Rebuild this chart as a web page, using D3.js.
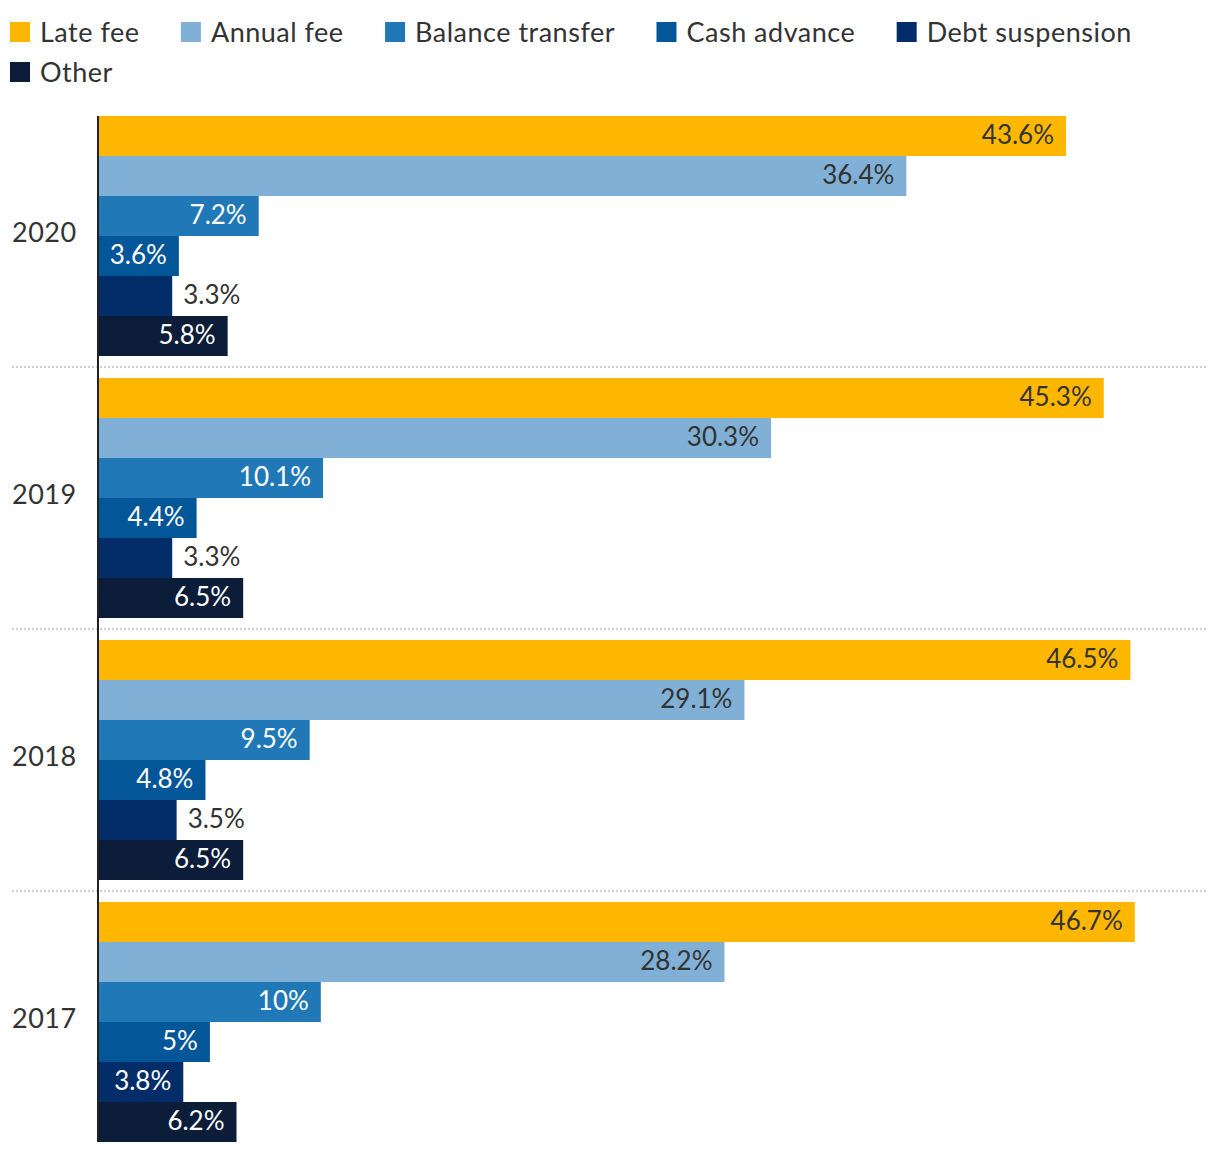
<!DOCTYPE html>
<html>
<head>
<meta charset="utf-8">
<script src="https://cdn.jsdelivr.net/npm/d3@7"></script>
<style>
  html, body { margin: 0; padding: 0; background: #fff; }
  svg { display: block; font-family: "Proxima Nova", Lato, "Open Sans", sans-serif; }
  .spaced { letter-spacing: 0.5px; }
</style>
</head>
<body>
<svg id="chart" width="1220" height="1152"></svg>
<script>
// ---- DATA ----
const years = ["2020", "2019", "2018", "2017"];
const seriesNames = ["Late fee", "Annual fee", "Balance transfer", "Cash advance", "Debt suspension", "Other"];
const seriesColors = ["#fdb700", "#80b0d5", "#2178b7", "#035697", "#022d69", "#0b1d39"];
const labelColors = ["#333333", "#333333", "#ffffff", "#ffffff", "#ffffff", "#ffffff"];
const lateFee = [43.6, 45.3, 46.5, 46.7];
const annualFee = [36.4, 30.3, 29.1, 28.2];
const balanceTransfer = [7.2, 10.1, 9.5, 10];
const cashAdvance = [3.6, 4.4, 4.8, 5];
const debtSuspension = [3.3, 3.3, 3.5, 3.8];
const other = [5.8, 6.5, 6.5, 6.2];
const seriesValues = [lateFee, annualFee, balanceTransfer, cashAdvance, debtSuspension, other];
const xDomain = [0, 50];

// ---- LAYOUT ----
const svg = d3.select("#chart");
const FONT = 27;
const VFONT = 26;
const MIN_INSIDE = 78.7; // minimum bar width (px) to hold its label inside
const mLeft = 99, mRight = 1208, mTop = 105, mBottom = 1153;

const x = d3.scaleLinear().domain(xDomain).range([mLeft, mRight]);
const y0 = d3.scaleBand().domain(years).range([mTop, mBottom]).paddingInner(22 / 262).paddingOuter(0.5 * 22 / 262);
const y1 = d3.scaleBand().domain(seriesNames).range([0, y0.bandwidth()]);

// legend
const legend = svg.append("g");
let lx = 10, ly = 22;
seriesNames.forEach((name, i) => {
  const g = legend.append("g");
  const t = g.append("text").attr("class", "spaced").attr("font-size", FONT).attr("fill", "#333").text(name);
  const w = t.node().getComputedTextLength();
  if (lx + 30 + w > 1215) { lx = 10; ly += 40; }
  g.append("rect").attr("x", lx).attr("y", ly).attr("width", 20).attr("height", 20).attr("fill", seriesColors[i]);
  t.attr("x", lx + 30).attr("y", ly + 19.5);
  lx += 30 + w + 41.5;
});

// separators
const sepYs = years.slice(1).map(yr => y0(yr) - y0.step() * y0.paddingInner() / 2);
svg.append("g").selectAll("line").data(sepYs).join("line")
  .attr("x1", 12).attr("x2", 1208).attr("y1", d => d).attr("y2", d => d)
  .attr("stroke", "#cfcfcf").attr("stroke-width", 2).attr("stroke-dasharray", "2,2");

// groups
const data = years.map((yr, yi) => ({ year: yr, values: seriesNames.map((s, si) => ({ s, si, v: seriesValues[si][yi] })) }));
const groups = svg.append("g").selectAll("g").data(data).join("g")
  .attr("transform", d => `translate(0,${y0(d.year)})`);

groups.append("text").attr("class", "spaced").attr("x", 12).attr("y", y0.bandwidth() / 2 + 6)
  .attr("font-size", FONT).attr("fill", "#333").text(d => d.year);

groups.selectAll("rect").data(d => d.values).join("rect")
  .attr("x", x(0)).attr("y", d => y1(d.s)).attr("height", y1.bandwidth())
  .attr("width", d => x(d.v) - x(0)).attr("fill", d => seriesColors[d.si]);

const PAD = 11;
groups.selectAll("text.val").data(d => d.values).join("text").attr("class", "val")
  .attr("font-size", VFONT)
  .attr("y", d => y1(d.s) + y1.bandwidth() / 2 + 8)
  .text(d => d.v + "%")
  .each(function (d) {
    const w = this.getComputedTextLength();
    const bw = x(d.v) - x(0);
    const inside = bw >= Math.max(w + 14, MIN_INSIDE);
    d3.select(this)
      .attr("x", inside ? x(d.v) - PAD - 1 : x(d.v) + PAD)
      .attr("text-anchor", inside ? "end" : "start")
      .attr("fill", inside ? labelColors[d.si] : "#333");
  });

// axis line
svg.append("line").attr("x1", mLeft - 1).attr("x2", mLeft - 1)
  .attr("y1", y0(years[0])).attr("y2", y0(years[years.length - 1]) + y0.bandwidth())
  .attr("stroke", "#222").attr("stroke-width", 2);
</script>
</body>
</html>
